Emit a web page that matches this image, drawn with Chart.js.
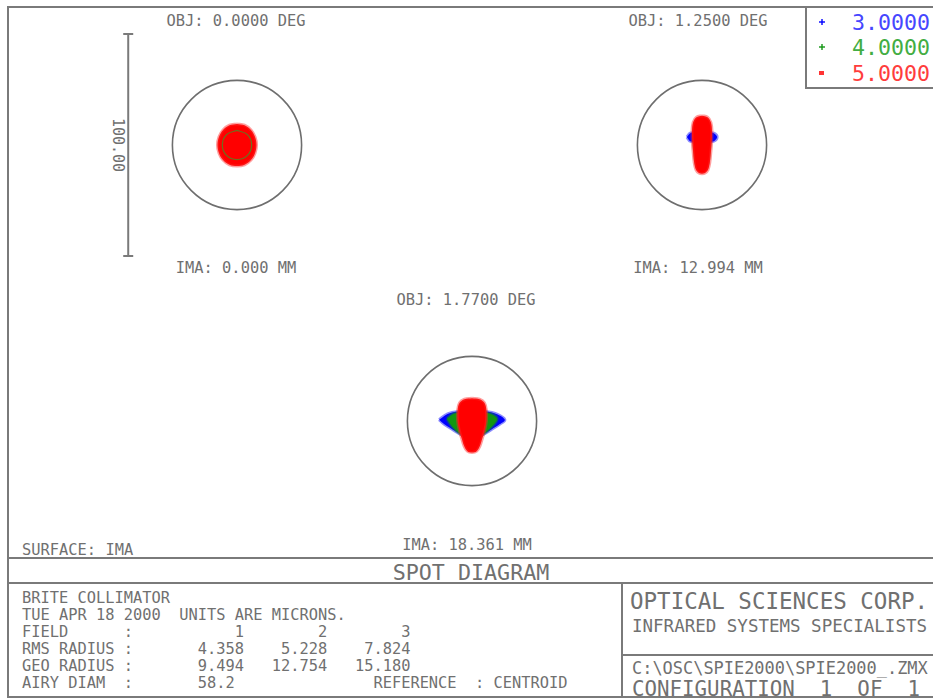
<!DOCTYPE html>
<html>
<head>
<meta charset="utf-8">
<title>Spot Diagram</title>
<script src="https://cdn.jsdelivr.net/npm/chart.js@4.4.0/dist/chart.umd.min.js"></script>
<style>
  html, body { margin: 0; padding: 0; background: #fff; }
  body { width: 933px; height: 698px; position: relative; overflow: hidden;
         font-family: 'DejaVu Sans Mono', monospace; color: #707070; }
  .t { position: absolute; white-space: pre; line-height: 1; }
  .c { transform: translate(-50%, -50%); }
  .l { transform: translate(0, -50%); }
  .box { position: absolute; border: 2px solid #7a7a7a; box-sizing: border-box; }
  .hl { position: absolute; height: 2px; background: #7a7a7a; }
  .vl { position: absolute; width: 2px; background: #7a7a7a; }
  canvas { position: absolute; }
</style>
</head>
<body>
<script>
// wavelengths in microns
var wavelengths = [3.0, 4.0, 5.0];
var waveColors = ['#0000ff', '#129612', '#ff0000'];
var legendColors = ['#4646ff', '#42ad42', '#ff3c3c'];

// field data
var fieldAngles = [0.0, 1.25, 1.77];
var imageHeights = [0.000, 12.994, 18.361];
var rmsRadius = [4.358, 5.228, 7.824];
var geoRadius = [9.494, 12.754, 15.180];
var airyDiam = 58.2;
var scaleBarLength = 100.0;

// spot outlines (microns from centroid), blue / green / red
var spot1Blue = [[0,5.2],[3.7,3.7],[5.2,0],[3.7,-3.7],[0,-5.2],[-3.7,-3.7],[-5.2,0],[-3.7,3.7]];
var spot1Green = [[0,6.6],[4.7,4.7],[6.6,0],[4.7,-4.7],[0,-6.6],[-4.7,-4.7],[-6.6,0],[-4.7,4.7]];
var spot1Red = [[0,9.5],[3.4,8.9],[6.3,6.8],[8.1,3.7],[8.8,0],[8.1,-3.7],[6.3,-6.8],[3.4,-8.9],
                [0,-9.5],[-3.4,-8.9],[-6.3,-6.8],[-8.1,-3.7],[-8.8,0],[-8.1,3.7],[-6.3,6.8],[-3.4,8.9]];

var spot2Blue = [[-6.8,3.6],[-5.3,5.3],[-2,5.8],[2,5.8],[5.3,5.3],[6.8,3.6],[5.3,1.7],[2,1.2],[-2,1.2],[-5.3,1.7]];
var spot2Green = [[0,11.6],[3.2,9],[3.7,3],[3.2,-5],[2.3,-9.6],[0,-11.2],[-2.3,-9.6],[-3.2,-5],[-3.7,3],[-3.2,9]];
var spot2Red = [[0,13.2],[2.5,12.5],[4.0,10.2],[4.5,6],[4.4,2],[4.0,-3],[3.5,-8],[2.7,-11.2],[1.4,-12.6],
                [0,-12.9],[-1.4,-12.6],[-2.7,-11.2],[-3.5,-8],[-4.0,-3],[-4.4,2],[-4.5,6],[-4.0,10.2],[-2.5,12.5]];

var spot3Blue = [[-14.8,0.6],[-11,3.2],[-6,4.3],[0,4.5],[6,4.3],[11,3.2],[14.8,0.6],[12.6,-1.4],[8.8,-3.8],
                 [4.4,-6.3],[0,-7.2],[-4.4,-6.3],[-8.8,-3.8],[-12.6,-1.4]];
var spot3Green = [[-11.3,1.0],[-8,3.4],[0,4.3],[8,3.4],[11.3,1.0],[8.8,-2.7],[5,-6.0],[0,-8.5],[-5,-6.0],[-8.8,-2.7]];
var spot3Red = [[0,10.2],[3.4,9.8],[5.6,8.2],[6.5,4.8],[6.5,0],[5.8,-4],[4.6,-8],[3.6,-11.2],[2.1,-13.6],
                [0,-14.2],[-2.1,-13.6],[-3.6,-11.2],[-4.6,-8],[-5.8,-4],[-6.5,0],[-6.5,4.8],[-5.6,8.2],[-3.4,9.8]];

var spots = [
  [spot1Blue, spot1Green, spot1Red],
  [spot2Blue, spot2Green, spot2Red],
  [spot3Blue, spot3Green, spot3Red]
];

// page layout (pixels)
var pxPerMicron = 2.22;
var cellW = 300, cellH = 260;
var cellCenters = [[237, 145], [702, 145], [472, 421]];
var objLabelPos = [[236, 22], [698, 22], [466, 301]];
var imaLabelPos = [[236, 269], [698, 269], [467, 546]];
var scaleBarX = -49;
var greenRingOnTop = [true, false, false];

function el(cls, css, text) {
  var d = document.createElement('div');
  d.className = cls;
  for (var k in css) d.style[k] = css[k];
  if (text !== undefined) d.textContent = text;
  document.body.appendChild(d);
  return d;
}
function label(x, y, size, text, align, color) {
  var css = { left: x + 'px', top: y + 'px', fontSize: size + 'px' };
  if (color) css.color = color;
  return el('t ' + (align || 'c'), css, text);
}

// frame
el('box', { left: '7px', top: '6px', width: '940px', height: '692px' });
el('hl', { left: '7px', top: '557px', width: '930px' });
el('hl', { left: '7px', top: '582px', width: '930px' });
el('vl', { left: '621px', top: '582px', height: '120px' });
el('hl', { left: '621px', top: '654px', width: '320px' });

// legend
el('box', { left: '805px', top: '6px', width: '140px', height: '83px', background: '#fff' });
var legendY = [22, 47, 73];
wavelengths.forEach(function(w, i) {
  var c = waveColors[i];
  if (i < 2) {
    el('hl', { left: '819px', top: (legendY[i] - 1) + 'px', width: '6px', background: c, opacity: 0.7 });
    el('vl', { left: '821px', top: (legendY[i] - 3) + 'px', height: '6px', background: c, opacity: 0.7 });
  } else {
    el('hl', { left: '819px', top: (legendY[i] - 2) + 'px', width: '5px', height: '4px', background: c, opacity: 0.8 });
  }
  label(852, legendY[i] + 1, 21.6, w.toFixed(4), 'l', legendColors[i]);
});

// field labels
fieldAngles.forEach(function(a, i) {
  label(objLabelPos[i][0], objLabelPos[i][1], 15.4, 'OBJ: ' + a.toFixed(4) + ' DEG');
  label(imaLabelPos[i][0], imaLabelPos[i][1], 15.4, 'IMA: ' + imageHeights[i].toFixed(3) + ' MM');
});
label(22, 551, 15.4, 'SURFACE: IMA', 'l');
label(471, 573, 21.7, 'SPOT DIAGRAM');
var sb = label(117, 145, 15, scaleBarLength.toFixed(2));
sb.style.transform = 'translate(-50%, -50%) rotate(90deg)';

// text block, bottom left
function row(name, vals, w0) {
  var s = name.padEnd(11) + ':';
  vals.forEach(function(v, i) { s += v.padStart(i === 0 ? w0 : 9); });
  return s;
}
var rows = [
  'BRITE COLLIMATOR',
  'TUE APR 18 2000  UNITS ARE MICRONS.',
  row('FIELD', ['1', '2', '3'], 12),
  row('RMS RADIUS', rmsRadius.map(function(v) { return v.toFixed(3); }), 12),
  row('GEO RADIUS', geoRadius.map(function(v) { return v.toFixed(3); }), 12),
  row('AIRY DIAM', [airyDiam.toFixed(1)], 11) + '               REFERENCE  : CENTROID'
];
rows.forEach(function(r, i) { label(22, 599 + i * 17, 15.36, r, 'l'); });

// title block, bottom right
label(630, 601, 22.5, 'OPTICAL SCIENCES CORP.', 'l');
label(632, 627, 17.5, 'INFRARED SYSTEMS SPECIALISTS', 'l');
label(632, 668, 16.95, 'C:\\OSC\\SPIE2000\\SPIE2000_.ZMX', 'l');
label(632, 689, 20.8, 'CONFIGURATION  1  OF  1', 'l');

// airy disc circle drawn on each spot plot
var airyPlugin = {
  id: 'airy',
  beforeDatasetsDraw: function(chart) {
    var xs = chart.scales.x, ys = chart.scales.y;
    var cx = xs.getPixelForValue(0), cy = ys.getPixelForValue(0);
    var r = xs.getPixelForValue(airyDiam / 2) - cx;
    var ctx = chart.ctx;
    ctx.save();
    ctx.beginPath();
    ctx.arc(cx, cy, r, 0, Math.PI * 2);
    ctx.strokeStyle = '#6e6e6e';
    ctx.lineWidth = 1.6;
    ctx.stroke();
    ctx.restore();
  }
};

var fringe = ['rgba(0,0,255,0.45)', 'rgba(18,150,18,0.45)', 'rgba(255,40,40,0.45)'];
function spotSet(pts, i) {
  var closed = pts.concat([pts[0]]);
  return {
    data: closed.map(function(p) { return { x: p[0], y: p[1] }; }),
    fill: 'shape',
    tension: 0.35,
    backgroundColor: waveColors[i],
    borderColor: fringe[i],
    borderWidth: 3,
    pointRadius: 0,
    order: 2 - i
  };
}

spots.forEach(function(set, f) {
  var cv = document.createElement('canvas');
  cv.width = cellW; cv.height = cellH;
  cv.style.left = (cellCenters[f][0] - cellW / 2) + 'px';
  cv.style.top = (cellCenters[f][1] - cellH / 2) + 'px';
  document.body.appendChild(cv);

  var datasets = set.map(spotSet);
  if (greenRingOnTop[f]) {
    // green marginal rays show through the red core
    datasets.push({
      data: set[1].concat([set[1][0]]).map(function(p) { return { x: p[0], y: p[1] }; }),
      fill: false, tension: 0.35, borderColor: 'rgba(60,150,40,0.75)', borderWidth: 1.2,
      pointRadius: 0, order: -1
    });
  }
  if (f === 0) {
    datasets.push({
      data: [{ x: scaleBarX, y: -scaleBarLength / 2 }, { x: scaleBarX, y: scaleBarLength / 2 }],
      borderColor: '#7a7a7a', borderWidth: 2, fill: false,
      pointStyle: 'line', pointRadius: 5, pointBorderColor: '#7a7a7a', pointBorderWidth: 2,
      order: 5
    });
  }

  var hx = cellW / 2 / pxPerMicron, hy = cellH / 2 / pxPerMicron;
  new Chart(cv, {
    type: 'line',
    data: { datasets: datasets },
    options: {
      responsive: false,
      animation: false,
      events: [],
      layout: { padding: 0, autoPadding: false },
      scales: {
        x: { type: 'linear', min: -hx, max: hx, display: false },
        y: { type: 'linear', min: -hy, max: hy, display: false }
      },
      plugins: { legend: { display: false }, tooltip: { enabled: false } }
    },
    plugins: [airyPlugin]
  });
});
</script>
</body>
</html>
